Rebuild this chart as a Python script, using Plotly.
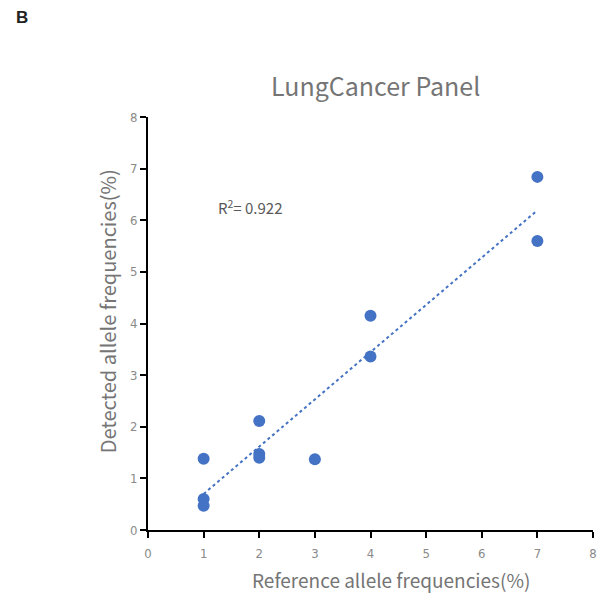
import numpy as np
import plotly.graph_objects as go

# Reference vs detected allele frequencies (%)
reference_af = [1, 1, 1, 2, 2, 2, 3, 4, 4, 7, 7]
detected_af = [1.38, 0.60, 0.47, 2.11, 1.47, 1.40, 1.37, 4.15, 3.36, 6.84, 5.60]
tick_values = [0, 1, 2, 3, 4, 5, 6, 7, 8]

x = np.array(reference_af, dtype=float)
y = np.array(detected_af, dtype=float)
slope, intercept = np.polyfit(x, y, 1)
fit = slope * x + intercept
r2 = 1 - np.sum((y - fit) ** 2) / np.sum((y - y.mean()) ** 2)
line_x = np.array([x.min(), x.max()])
line_y = slope * line_x + intercept

blue = "#4472C4"
font = "Noto Sans CJK SC, Open Sans, sans-serif"
W, H = 606, 595
ML, MR, MT, MB = 148, 9, 117, 65
PW, PH = W - ML - MR, H - MT - MB


def px_to_paper(px, py):
    """Convert page pixel position to paper coordinates."""
    return (px - ML) / PW, (H - MB - py) / PH


fig = go.Figure()
fig.add_trace(go.Scatter(
    x=line_x, y=line_y, mode="lines",
    line=dict(color=blue, width=2, dash="dot"),
    hoverinfo="skip", showlegend=False,
))
fig.add_trace(go.Scatter(
    x=reference_af, y=detected_af, mode="markers",
    marker=dict(color=blue, size=12, line=dict(width=0)),
    showlegend=False,
))

fig.add_annotation(
    x=1.22, y=6.26, xref="x", yref="y", xanchor="left", yanchor="middle",
    text=f"R<sup>2</sup>= {r2:.3f}", showarrow=False,
    font=dict(family=font, size=15, color="#595959"),
)

bx, by = px_to_paper(13, 18)
fig.add_annotation(
    x=bx, y=by, xref="paper", yref="paper", xanchor="left", yanchor="middle",
    text="<b>B</b>", showarrow=False,
    font=dict(family="Liberation Sans, Arial, sans-serif", size=17, color="#222222"),
)

tx, ty = px_to_paper(378, 85)
fig.add_annotation(
    x=tx, y=ty, xref="paper", yref="paper", xanchor="center", yanchor="middle",
    text="LungCancer Panel", showarrow=False,
    font=dict(family=font, size=25, color="#757575"),
)

xtx, xty = px_to_paper(393, 579)
fig.add_annotation(
    x=xtx, y=xty, xref="paper", yref="paper", xanchor="center", yanchor="middle",
    text="Reference allele frequencies(%)", showarrow=False,
    font=dict(family=font, size=19, color="#757575"),
)

ytx, yty = px_to_paper(107, 311)
fig.add_annotation(
    x=ytx, y=yty, xref="paper", yref="paper", xanchor="center", yanchor="middle",
    text="Detected allele frequencies(%)", showarrow=False, textangle=-90,
    font=dict(family=font, size=20, color="#757575"),
)

axis_common = dict(
    range=[0, 8], tickvals=tick_values, showgrid=False, zeroline=False,
    showline=True, linecolor="black", linewidth=2,
    ticks="outside", ticklen=6, tickwidth=2, tickcolor="black",
    tickfont=dict(family="DejaVu Sans Condensed, Liberation Sans Narrow, " + font,
                  size=13, color="#8a8a8a"),
)

fig.update_layout(
    width=W, height=H,
    margin=dict(l=ML, r=MR, t=MT, b=MB),
    paper_bgcolor="white", plot_bgcolor="white",
    xaxis=dict(axis_common, ticklabelstandoff=4),
    yaxis=dict(axis_common),
)

fig.write_html("out.html")
